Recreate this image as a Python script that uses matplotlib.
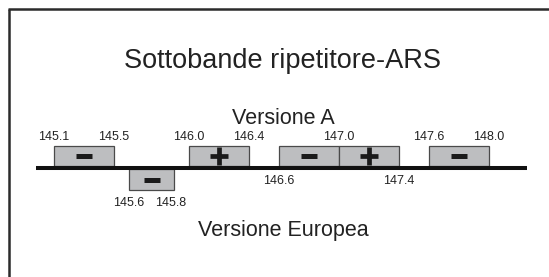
import matplotlib.pyplot as plt
from matplotlib.patches import Rectangle

plt.rcParams['font.family'] = ['Liberation Sans', 'DejaVu Sans']

# sub-bands (MHz) as drawn
band_lo = [145.1, 145.6, 146.0, 146.6, 147.0, 147.6]
band_hi = [145.5, 145.9, 146.4, 147.0, 147.4, 148.0]
band_sign = ['-', '-', '+', '-', '+', '-']
band_side = ['up', 'down', 'up', 'up', 'up', 'up']

top_pos = [145.1, 145.5, 146.0, 146.4, 147.0, 147.6, 148.0]
top_txt = ['145.1', '145.5', '146.0', '146.4', '147.0', '147.6', '148.0']
mid_pos = [146.6, 147.4]
mid_txt = ['146.6', '147.4']
low_pos = [145.6, 145.88]
low_txt = ['145.6', '145.8']

W, H = 549, 277
fig = plt.figure(figsize=(W / 100, H / 100), dpi=100)
ax = fig.add_axes([0, 0, 1, 1])
ax.set_xlim(145.1 - 54 / 150, 145.1 + (W - 54) / 150)
ax.set_ylim(H, 0)
ax.axis('off')

# frame (clipped at right and bottom)
ax.plot([ax.get_xlim()[0] + 9 / 150] * 2, [9, H + 5], color='#2b2b2b', lw=1.8, solid_capstyle='butt')
ax.plot([ax.get_xlim()[0] + 8 / 150, ax.get_xlim()[1] + 1], [9, 9], color='#2b2b2b', lw=1.8, solid_capstyle='butt')

gray = '#bdbec0'
edge = '#4a4a4a'
for lo, hi, sg, side in zip(band_lo, band_hi, band_sign, band_side):
    if side == 'up':
        y0, y1 = 146, 166
    else:
        y0, y1 = 169, 190
    ax.add_patch(Rectangle((lo, y0), hi - lo, y1 - y0, facecolor=gray, edgecolor=edge, lw=0.9, zorder=2))
    xc = (lo + hi) / 2
    yc = (y0 + y1) / 2
    if sg == '-':
        ax.plot(xc, yc, marker='_', ms=11.5, mew=3.6, color='#1a1a1a', zorder=3)
    else:
        ax.plot(xc, yc, marker='+', ms=12.5, mew=3.4, color='#1a1a1a', zorder=3)

# baseline
ax.plot([145.1 - 18 / 150, 145.1 + 473 / 150], [168, 168], color='#111111', lw=2.9, solid_capstyle='butt', zorder=4)

for p, t in zip(top_pos, top_txt):
    ax.text(p, 137.5, t, ha='center', va='center', fontsize=9, color='#222222')
for p, t in zip(mid_pos, mid_txt):
    ax.text(p, 181, t, ha='center', va='center', fontsize=9, color='#222222')
for p, t in zip(low_pos, low_txt):
    ax.text(p, 202.5, t, ha='center', va='center', fontsize=9, color='#222222')

fig.text(282 / W, 1 - 68 / H, 'Sottobande ripetitore-ARS', ha='center', va='baseline', fontsize=19.5, color='#222222')
fig.text(283 / W, 1 - 124 / H, 'Versione A', ha='center', va='baseline', fontsize=15.5, color='#222222')
fig.text(283 / W, 1 - 236 / H, 'Versione Europea', ha='center', va='baseline', fontsize=15.5, color='#222222')

fig.savefig('out.png', dpi=100)
